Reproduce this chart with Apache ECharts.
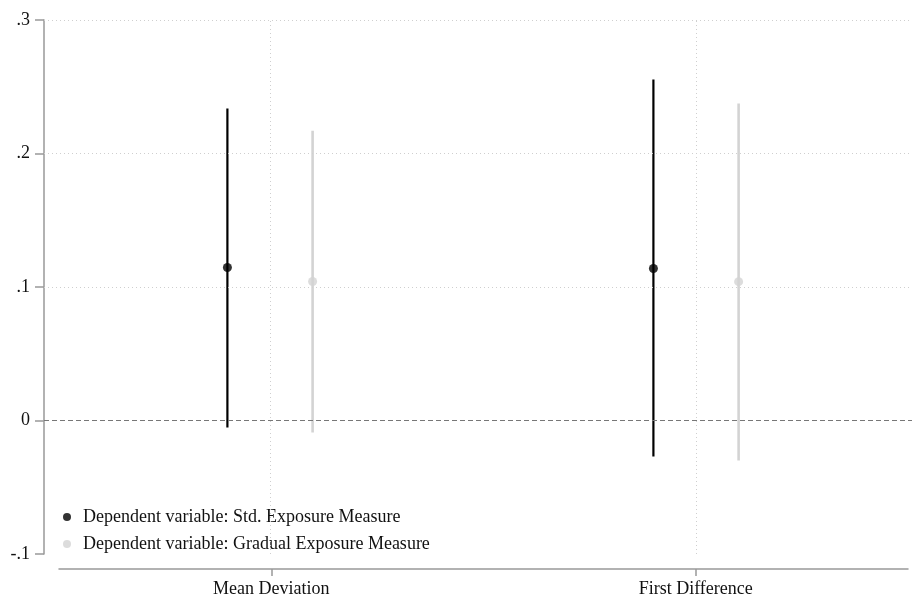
<!DOCTYPE html>
<html><head><meta charset="utf-8">
<script src="https://cdn.jsdelivr.net/npm/echarts@6/dist/echarts.min.js"></script>
<style>html,body{margin:0;padding:0;background:#fff}#c{width:912px;height:599px}</style>
</head><body><div id="c"></div>
<script>
const categories = ['Mean Deviation', 'First Difference'];
const catPos = [1, 2];
const seriesNames = ['Dependent variable: Std. Exposure Measure', 'Dependent variable: Gradual Exposure Measure'];
const offsets = [-0.1, 0.1];
const stdEst = [0.1146, 0.1139];
const stdLo = [-0.0052, -0.027];
const stdHi = [0.2337, 0.2554];
const gradEst = [0.1041, 0.104];
const gradLo = [-0.009, -0.030];
const gradHi = [0.217, 0.2375];
const yTicks = [-0.1, 0, 0.1, 0.2, 0.3];
const gridYs = [0.1, 0.2, 0.3];

const colors = ['#000000', '#d3d3d3'];
const font = 'Liberation Serif';
const ests = [stdEst, gradEst], los = [stdLo, gradLo], his = [stdHi, gradHi];

function fmt(v){
  if (Math.abs(v) < 1e-9) return '0';
  let s = (Math.round(v*10)/10).toString();
  return s.replace('0.', '.');
}

const series = [];
series.push({
  type: 'line', xAxisIndex: 0, yAxisIndex: 0, data: [], silent: true,
  markLine: {
    silent: true, symbol: 'none', label: {show: false},
    data: gridYs.map(v => ({yAxis: v, lineStyle: {color: '#cfcfcf', type: [1, 3], width: 1}}))
      .concat(catPos.map(v => ({xAxis: v, lineStyle: {color: '#cfcfcf', type: [1, 3], width: 1}})))
      .concat([{yAxis: 0, lineStyle: {color: '#777', type: [5, 3], width: 1.2}}])
  }
});
for (let s = 0; s < 2; s++) {
  const d = catPos.map((p, i) => [p + offsets[s], los[s][i], his[s][i]]);
  series.push({
    type: 'custom', xAxisIndex: 0, yAxisIndex: 0, z: 3,
    data: d,
    renderItem: function (params, api) {
      const a = api.coord([api.value(0), api.value(1)]);
      const b = api.coord([api.value(0), api.value(2)]);
      return {type: 'line', shape: {x1: a[0], y1: a[1], x2: b[0], y2: b[1]},
        style: {stroke: colors[s], lineWidth: s === 0 ? 2.2 : 2.6}};
    }
  });
  series.push({
    name: seriesNames[s], type: 'scatter', xAxisIndex: 0, yAxisIndex: 0, z: 4,
    symbol: 'circle', symbolSize: 9, itemStyle: {color: colors[s]},
    data: catPos.map((p, i) => [p + offsets[s], ests[s][i]])
  });
}
series.push({type: 'scatter', xAxisIndex: 1, yAxisIndex: 1, data: [], silent: true});

const chart = echarts.init(document.getElementById('c'), null, {renderer: 'canvas'});
chart.setOption({
  animation: false,
  backgroundColor: '#fff',
  textStyle: {fontFamily: font},
  legend: {
    data: seriesNames, orient: 'vertical', left: 58, top: 503,
    icon: 'circle', itemWidth: 8, itemHeight: 8, itemGap: 9,
    textStyle: {fontFamily: font, fontSize: 18, lineHeight: 18, color: '#111', padding: [0, 0, 0, 7]},
    selectedMode: false
  },
  grid: [
    {left: 44, right: 0, top: 20, bottom: 45},
    {left: 59, right: 4, top: 568, height: 1}
  ],
  xAxis: [
    {type: 'value', gridIndex: 0, min: 0.4695, max: 2.507, show: false},
    {type: 'category', gridIndex: 1, data: categories, boundaryGap: true,
      axisLine: {show: true, lineStyle: {color: '#999', width: 1.5}},
      axisTick: {show: true, alignWithLabel: true, length: 7, lineStyle: {color: '#999', width: 1.5}},
      axisLabel: {fontFamily: font, fontSize: 18, color: '#111', margin: 11}}
  ],
  yAxis: [
    {type: 'value', gridIndex: 0, min: -0.1, max: 0.3, interval: 0.1,
      axisLine: {show: true, lineStyle: {color: '#999', width: 1.5}},
      axisTick: {show: true, inside: false, length: 9, lineStyle: {color: '#999', width: 1.5}},
      splitLine: {show: false},
      axisLabel: {fontFamily: font, fontSize: 18, color: '#111', margin: 14, formatter: fmt}},
    {type: 'value', gridIndex: 1, show: false}
  ],
  series: series
});
</script></body></html>
